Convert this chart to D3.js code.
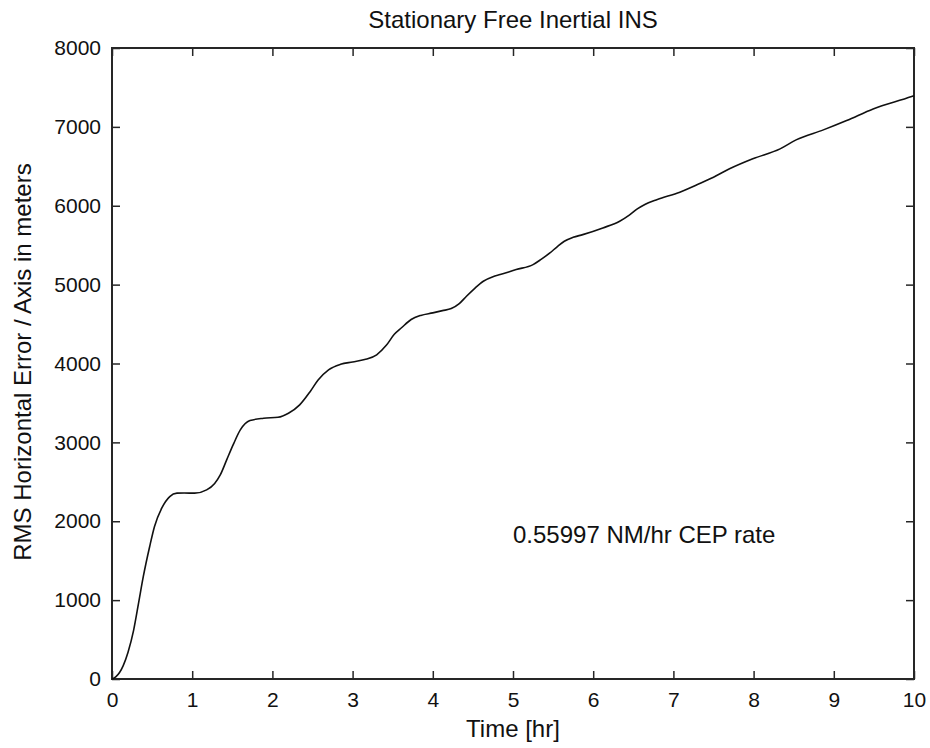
<!DOCTYPE html>
<html>
<head>
<meta charset="utf-8">
<script src="https://cdn.jsdelivr.net/npm/d3@7"></script>
<style>
  body { margin: 0; background: #fff; overflow: hidden; }
  svg { display: block; }
  svg text { font-family: "Liberation Sans", Arial, sans-serif; fill: #111; }
</style>
</head>
<body>
<svg id="chart"></svg>
<script>
// Time in hours and RMS horizontal error in metres
const timeHr = [0, 0.05, 0.14, 0.2, 0.27, 0.33, 0.39, 0.47, 0.53, 0.62, 0.72, 0.81, 0.9, 1.03, 1.18,
  1.28, 1.35, 1.43, 1.51, 1.6, 1.72, 1.89, 2.07, 2.2, 2.34, 2.47, 2.57, 2.7, 2.85, 3.0, 3.15, 3.3,
  3.42, 3.52, 3.61, 3.73, 3.85, 4.0, 4.12, 4.23, 4.33, 4.42, 4.52, 4.63, 4.75, 4.84, 5.04, 5.25,
  5.35, 5.46, 5.55, 5.64, 5.75, 5.87, 6.12, 6.33, 6.45, 6.55, 6.65, 6.8, 7.08, 7.3, 7.5, 7.7,
  7.99, 8.33, 8.53, 8.87, 9.16, 9.49, 9.97, 10];
const rmsError = [0, 30, 170, 340, 620, 955, 1297, 1680, 1933, 2166, 2313, 2356, 2358, 2356, 2398,
  2480, 2588, 2778, 2968, 3158, 3276, 3306, 3318, 3369, 3475, 3643, 3791, 3920, 3990, 4020, 4050, 4110,
  4230, 4370, 4453, 4558, 4610, 4642, 4670, 4697, 4760, 4853, 4950, 5043, 5100, 5127, 5191, 5254,
  5320, 5402, 5480, 5550, 5600, 5634, 5719, 5803, 5880, 5960, 6020, 6080, 6172, 6270, 6362, 6468,
  6595, 6721, 6835, 6962, 7080, 7228, 7384, 7395];
const xTicks = [0, 1, 2, 3, 4, 5, 6, 7, 8, 9, 10];
const yTicks = [0, 1000, 2000, 3000, 4000, 5000, 6000, 7000, 8000];

const width = 930, height = 748;
const margin = { top: 48, right: 16, bottom: 69, left: 112 };
const innerWidth = width - margin.left - margin.right;
const innerHeight = height - margin.top - margin.bottom;

const svg = d3.select('#chart')
  .attr('width', width)
  .attr('height', height)
  .attr('viewBox', `0 0 ${width} ${height}`);

const g = svg.append('g').attr('transform', `translate(${margin.left}, ${margin.top})`);

const xScale = d3.scaleLinear().domain([0, 10]).range([0, innerWidth]);
const yScale = d3.scaleLinear().domain([0, 8000]).range([innerHeight, 0]);

const axisColor = '#262626';
const tickFont = '21px';
const labelFont = '24px';

// Inward ticks on all four sides (MATLAB box style)
function styleAxis(sel, keepText) {
  sel.select('.domain').remove();
  sel.selectAll('.tick line').attr('stroke', axisColor).attr('stroke-width', 1.5);
  if (keepText) sel.selectAll('text').attr('font-size', tickFont).attr('fill', '#111');
  else sel.selectAll('text').remove();
}

g.append('g')
  .attr('transform', `translate(0, ${innerHeight})`)
  .call(d3.axisBottom(xScale).tickValues(xTicks).tickFormat(d3.format('d')).tickSizeInner(-8).tickPadding(13))
  .call(styleAxis, true);

g.append('g')
  .call(d3.axisTop(xScale).tickValues(xTicks).tickSizeInner(-8))
  .call(styleAxis, false);

g.append('g')
  .call(d3.axisLeft(yScale).tickValues(yTicks).tickFormat(d3.format('d')).tickSizeInner(-8).tickPadding(11))
  .call(styleAxis, true);

g.append('g')
  .attr('transform', `translate(${innerWidth}, 0)`)
  .call(d3.axisRight(yScale).tickValues(yTicks).tickSizeInner(-8))
  .call(styleAxis, false);

// Box
g.append('rect')
  .attr('width', innerWidth)
  .attr('height', innerHeight)
  .attr('fill', 'none')
  .attr('stroke', axisColor)
  .attr('stroke-width', 2);

// Error curve
const points = timeHr.map((t, i) => [t, rmsError[i]]);
const line = d3.line()
  .x(d => xScale(d[0]))
  .y(d => yScale(d[1]))
  .curve(d3.curveMonotoneX);

g.append('path')
  .datum(points)
  .attr('fill', 'none')
  .attr('stroke', '#111')
  .attr('stroke-width', 1.6)
  .attr('d', line);

// Annotation
svg.append('text')
  .attr('x', margin.left + xScale(5))
  .attr('y', 543)
  .attr('font-size', labelFont)
  .text('0.55997 NM/hr CEP rate');

// Title
svg.append('text')
  .attr('x', margin.left + innerWidth / 2)
  .attr('y', 28)
  .attr('text-anchor', 'middle')
  .attr('font-size', labelFont)
  .text('Stationary Free Inertial INS');

// Axis labels
svg.append('text')
  .attr('x', margin.left + innerWidth / 2)
  .attr('y', 737)
  .attr('text-anchor', 'middle')
  .attr('font-size', labelFont)
  .text('Time [hr]');

svg.append('text')
  .attr('transform', 'rotate(-90)')
  .attr('x', -362)
  .attr('y', 31)
  .attr('text-anchor', 'middle')
  .attr('font-size', labelFont)
  .text('RMS Horizontal Error / Axis in meters');
</script>
</body>
</html>
